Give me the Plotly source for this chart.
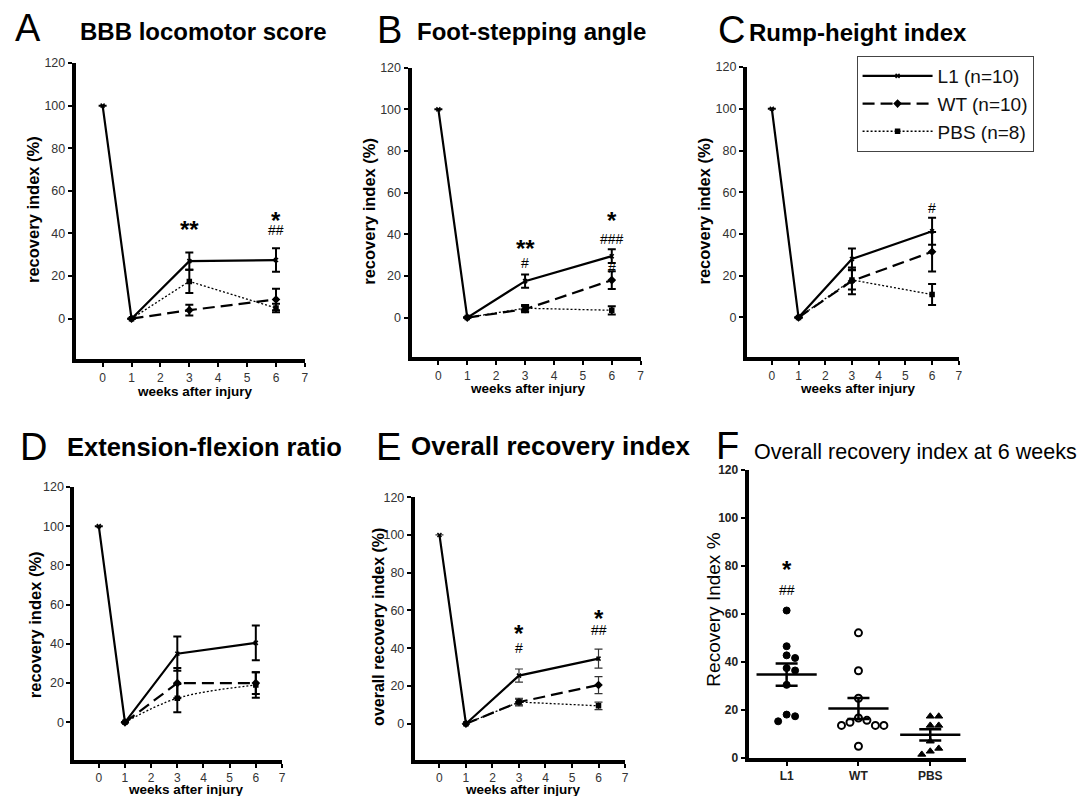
import plotly.graph_objects as go
import numpy as np

FONT = "Liberation Sans, Arial, sans-serif"
W, H = 1088, 796

# ---------------- data ----------------
weeks_l1 = [0, 1, 3, 6]
weeks_grp = [1, 3, 6]
sem_weeks = [3, 6]
x_ticks = [0, 1, 2, 3, 4, 5, 6, 7]
y_ticks = [0, 20, 40, 60, 80, 100, 120]

# A  BBB locomotor score
a_l1 = [100, 0, 27, 27.5]
a_l1_sem = [4, 5.5]
a_wt = [0, 4, 9]
a_wt_sem = [2.5, 5]
a_pbs = [0, 17.5, 5]
a_pbs_sem = [5.5, 2]

# B  Foot-stepping angle
b_l1 = [100, 0, 17.5, 29.5]
b_l1_sem = [3.2, 3.3]
b_wt = [0, 4, 18]
b_wt_sem = [1.5, 4.3]
b_pbs = [0, 4.5, 3.5]
b_pbs_sem = [1.5, 2]

# C  Rump-height index
c_l1 = [100, 0, 28, 41.3]
c_l1_sem = [5, 6.5]
c_wt = [0, 17.5, 31.5]
c_wt_sem = [6.4, 9.5]
c_pbs = [0, 18, 11]
c_pbs_sem = [4.6, 5]

# D  Extension-flexion ratio
d_l1 = [100, 0, 35, 40.5]
d_l1_sem = [8.7, 8.9]
d_wt = [0, 20, 20]
d_wt_sem = [7.7, 5.5]
d_pbs = [0, 12.3, 19]
d_pbs_sem = [7.2, 6.5]

# E  Overall recovery index
e_l1 = [100, 0, 25.5, 34.5]
e_l1_sem = [3.5, 5]
e_wt = [0, 11.5, 20.5]
e_wt_sem = [2, 4.5]
e_pbs = [0, 11.5, 9.5]
e_pbs_sem = [1.5, 2]

# F  Overall recovery index at 6 weeks (individual animals)
f_categories = ["L1", "WT", "PBS"]
f_l1 = [61.5, 46.6, 42.8, 41.7, 37.5, 36.5, 30.5, 18.1, 17.4, 15.3]
f_wt = [52.2, 36.4, 24.9, 16.7, 15.7, 14.9, 13.6, 13.6, 13.6, 4.9]
f_pbs = [17.4, 17.4, 13.6, 13.6, 7.0, 4.0, 2.8, 1.5]

series_names = ["L1 (n=10)", "WT (n=10)", "PBS (n=8)"]

# significance marks: (panel, x, y, text, kind)
sig_marks = [
    ("A", 3, 42, "**", "star"), ("A", 6, 46, "*", "star"), ("A", 6, 41.5, "##", "hash"),
    ("B", 3, 33, "**", "star"), ("B", 3, 26.4, "#", "hash"),
    ("B", 6, 46.5, "*", "star"), ("B", 6, 37.6, "###", "hash"), ("B", 6, 24, "#", "hash"),
    ("C", 6, 52.4, "#", "hash"),
    ("E", 3, 48, "*", "star"), ("E", 3, 40.2, "#", "hash"),
    ("E", 6, 55.5, "*", "star"), ("E", 6, 49.5, "##", "hash"),
    ("F", 0, 78.5, "*", "star"), ("F", 0, 69.9, "##", "hash"),
]

# ---------------- helpers ----------------
OX, OY, SY = 5.0, 14.0, 0.982   # empirical page offset / scale of the photographed figure


def px(x):
    return (x - OX) / W


def py(y):
    return 1 - ((y - OY) / SY) / H


def err_full(weeks, sem):
    lookup = dict(zip(sem_weeks, sem))
    return [lookup.get(w, None) for w in weeks]


panels = {
    # key: (axis suffix, x px domain, y px domain (top, bottom)) in reference pixels
    "A": ("", (73, 303), (62, 358)),
    "B": ("2", (410, 640), (66.7, 356)),
    "C": ("3", (746.7, 959.3), (66, 356)),
    "D": ("4", (71.7, 280), (485.7, 758.3)),
    "E": ("5", (413.3, 624.3), (496, 758.3)),
    "F": ("6", (748.3, 966.7), (469, 756.7)),
}

panel_data = {
    "A": (a_l1, a_l1_sem, a_wt, a_wt_sem, a_pbs, a_pbs_sem),
    "B": (b_l1, b_l1_sem, b_wt, b_wt_sem, b_pbs, b_pbs_sem),
    "C": (c_l1, c_l1_sem, c_wt, c_wt_sem, c_pbs, c_pbs_sem),
    "D": (d_l1, d_l1_sem, d_wt, d_wt_sem, d_pbs, d_pbs_sem),
    "E": (e_l1, e_l1_sem, e_wt, e_wt_sem, e_pbs, e_pbs_sem),
}

fig = go.Figure()

styles = [
    dict(dash="solid", width=2.2, symbol="x-thin-open", msize=4),
    dict(dash="12px,6px", width=2.2, symbol="diamond", msize=5),
    dict(dash="2px,2px", width=1.3, symbol="square", msize=4),
]

for key, (l1, l1s, wt, wts, pbs, pbss) in panel_data.items():
    suf = panels[key][0]
    xa, ya = "x" + suf, "y" + suf
    thick = 1.2 if key == "E" else 2
    ecol = "#333" if key == "E" else "black"
    for i, (xs, ys, ss) in enumerate([(weeks_l1, l1, l1s), (weeks_grp, wt, wts), (weeks_grp, pbs, pbss)]):
        st = styles[i]
        shape = "spline" if (key == "D" and i == 2) else "linear"
        fig.add_trace(go.Scatter(
            x=xs, y=ys, xaxis=xa, yaxis=ya, mode="lines+markers",
            name=series_names[i], legendgroup=series_names[i],
            showlegend=(key == "C"),
            line=dict(color="black", width=st["width"], dash=st["dash"], shape=shape),
            marker=dict(symbol=st["symbol"], size=st["msize"], color="black",
                        line=dict(color="black", width=1.5)),
            error_y=dict(type="data", array=err_full(xs, ss), visible=True,
                         color=ecol, thickness=thick, width=4),
            cliponaxis=False,
        ))


# panel F: beeswarm-style arrangement computed from values
def beeswarm(values, y_px_per_unit=2.4, x_px_per_unit=72.0, step_px=8.5, diam_px=8.0):
    placed = []
    offsets = []
    for v in values:
        yv = v * y_px_per_unit
        for k in [0, 1, -1, 2, -2, 3, -3]:
            xo = k * step_px
            ok = all(not (abs(xo - pxo) < diam_px and abs(yv - pyv) < diam_px) for pxo, pyv in placed)
            if ok:
                placed.append((xo, yv))
                offsets.append(xo / x_px_per_unit)
                break
    return offsets


f_groups = [f_l1, f_wt, f_pbs]
f_markers = [
    dict(symbol="circle", size=7, color="black", line=dict(color="black", width=1)),
    dict(symbol="circle-open", size=7, color="black", line=dict(color="black", width=2)),
    dict(symbol="triangle-up", size=7, color="black", line=dict(color="black", width=1)),
]
for gi, vals in enumerate(f_groups):
    offs = beeswarm(vals)
    fig.add_trace(go.Scatter(
        x=[gi + o for o in offs], y=vals, xaxis="x6", yaxis="y6", mode="markers",
        marker=f_markers[gi], showlegend=False, cliponaxis=False,
    ))
    arr = np.array(vals)
    mean = arr.mean()
    sem = arr.std(ddof=1) / np.sqrt(len(arr))
    fig.add_trace(go.Scatter(
        x=[gi], y=[mean], xaxis="x6", yaxis="y6", mode="markers",
        marker=dict(symbol="line-ew", size=43, line=dict(color="black", width=2.5)),
        error_y=dict(type="data", array=[sem], visible=True, color="black", thickness=2.5, width=11),
        showlegend=False, cliponaxis=False,
    ))

# ---------------- axes ----------------
layout_axes = {}
for key, (suf, (x0, x1), (ytop, ybot)) in panels.items():
    xname = "xaxis" + suf
    yname = "yaxis" + suf
    common = dict(showline=True, linewidth=4, linecolor="black", ticks="outside",
                  ticklen=4, tickwidth=2, tickcolor="black", showgrid=False, zeroline=False)
    if key != "F":
        layout_axes[xname] = dict(domain=[px(x0), px(x1)], range=[-0.93, 7], tickvals=x_ticks,
                                  anchor="y" + suf,
                                  tickfont=dict(size=12, color="#333", family=FONT), **common)
        layout_axes[yname] = dict(domain=[py(ybot), py(ytop)], range=[-19, 120], tickvals=y_ticks,
                                  anchor="x" + suf,
                                  tickfont=dict(size=12.5, color="#333", family=FONT), **common)
    else:
        layout_axes[xname] = dict(domain=[px(x0), px(x1)], range=[-0.53, 2.5],
                                  tickvals=[0, 1, 2], ticktext=[f"<b>{c}</b>" for c in f_categories],
                                  anchor="y6",
                                  tickfont=dict(size=12, color="#222", family=FONT), **common)
        layout_axes[yname] = dict(domain=[py(ybot), py(ytop)], range=[0, 120], tickvals=y_ticks,
                                  ticktext=[f"<b>{v}</b>" for v in y_ticks],
                                  anchor="x6",
                                  tickfont=dict(size=12, color="#222", family=FONT), **common)

# ---------------- annotations ----------------
ann = []


def text_px(x, y, text, size, bold=False, xanchor="center", angle=0, color="black"):
    t = f"<b>{text}</b>" if bold else text
    ann.append(dict(x=px(x), y=py(y), xref="paper", yref="paper", text=t, showarrow=False,
                    xanchor=xanchor, yanchor="middle", textangle=angle,
                    font=dict(size=size, family=FONT, color=color)))


# panel letters and titles
text_px(25, 27, "A", 38)
text_px(75, 30, "BBB locomotor score", 24, bold=True, xanchor="left")
text_px(388, 29, "B", 38)
text_px(413, 30, "Foot-stepping angle", 24, bold=True, xanchor="left")
text_px(731, 29, "C", 38)
text_px(747, 31, "Rump-height index", 24, bold=True, xanchor="left")
text_px(31, 446, "D", 38)
text_px(62, 446, "Extension-flexion ratio", 25.5, bold=True, xanchor="left")
text_px(387, 446, "E", 38)
text_px(407, 445, "Overall recovery index", 26, bold=True, xanchor="left")
text_px(727, 445, "F", 38)
text_px(752, 451, "Overall recovery index at 6 weeks", 21.5, xanchor="left")

# axis titles
text_px(30, 208, "recovery index (%)", 16.5, bold=True, angle=-90)
text_px(367, 210, "recovery index (%)", 16.5, bold=True, angle=-90)
text_px(704, 210, "recovery index (%)", 16.5, bold=True, angle=-90)
text_px(32, 623, "recovery index (%)", 16.5, bold=True, angle=-90)
text_px(377, 626, "overall recovery index (%)", 16, bold=True, angle=-90)
text_px(713, 608, "Recovery Index %", 19, angle=-90)

text_px(193, 390, "weeks after injury", 13.5, bold=True)
text_px(526.7, 387, "weeks after injury", 13.5, bold=True)
text_px(858.3, 387, "weeks after injury", 13.5, bold=True)
text_px(183.3, 788, "weeks after injury", 13.5, bold=True)
text_px(521.7, 788, "weeks after injury", 13.5, bold=True)

# significance marks (data coordinates)
for key, x, y, text, kind in sig_marks:
    suf = panels[key][0]
    if kind == "star":
        ann.append(dict(x=x, y=y, xref="x" + suf, yref="y" + suf, text=f"<b>{text}</b>",
                        showarrow=False, yanchor="middle",
                        font=dict(size=24, family=FONT, color="black")))
    else:
        ann.append(dict(x=x, y=y, xref="x" + suf, yref="y" + suf, text=text,
                        showarrow=False, yanchor="middle",
                        font=dict(size=14, family=FONT, color="black")))

fig.update_layout(
    width=W, height=H, margin=dict(l=0, r=0, t=0, b=0),
    paper_bgcolor="white", plot_bgcolor="white",
    font=dict(family=FONT, color="black"),
    annotations=ann,
    legend=dict(x=px(856.7), y=py(55), xanchor="left", yanchor="top",
                bordercolor="#444", borderwidth=1, bgcolor="white", itemwidth=70,
                font=dict(size=19, family=FONT, color="#111"), tracegroupgap=0),
    **layout_axes,
)

fig.write_html("out.html")
